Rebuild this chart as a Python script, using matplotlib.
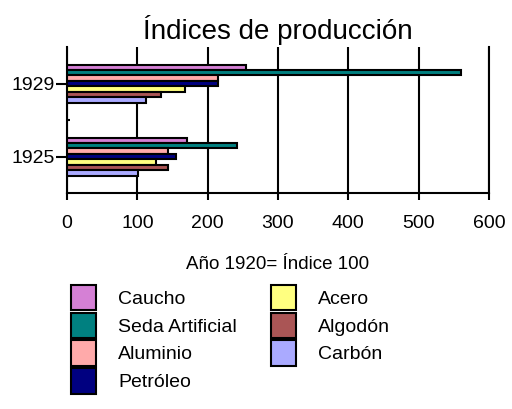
import numpy as np
import matplotlib
matplotlib.use("Agg")
import matplotlib.pyplot as plt

plt.rcParams['font.family'] = ['Liberation Sans', 'DejaVu Sans']

years = ["1925", "1929"]
series = ["Caucho", "Seda Artificial", "Aluminio", "Petróleo", "Acero", "Algodón", "Carbón"]
values = {
    "Caucho":          [171, 255],
    "Seda Artificial": [241, 560],
    "Aluminio":        [143, 214],
    "Petróleo":        [155, 214],
    "Acero":           [127, 168],
    "Algodón":         [144, 133],
    "Carbón":          [101, 112],
}
colors = ["#D580D5", "#008080", "#FFAAAA", "#000080", "#FFFF80", "#AA5555", "#AAAAFF"]

fig = plt.figure(figsize=(5.12, 4.09), dpi=100)
ax = fig.add_axes([0.131, 0.528, 0.824, 0.357])

y = np.arange(len(years))
n = len(series)
h = 0.52 / n
handles = []
for i, (name, c) in enumerate(zip(series, colors)):
    off = (n - 1) / 2 * h - i * h
    b = ax.barh(y + off, values[name], height=h, color=c, edgecolor="black", linewidth=1.5, label=name, zorder=3)
    handles.append(b)

ax.set_xlim(0, 600)
ax.set_ylim(-0.5, 1.5)
ax.set_xticks(range(0, 601, 100))
ax.set_yticks(y)
ax.set_yticklabels(years)
ax.set_yticks([0.5], minor=True)
ax.tick_params(axis='y', which='minor', direction='in', length=2, width=1.5)
ax.tick_params(axis='y', which='major', length=8, width=1.5, labelsize=14, pad=1)
ax.tick_params(axis='x', length=5, width=1.5, labelsize=14, pad=11)
ax.grid(axis='x', color='black', linewidth=1.5, zorder=0)
ax.spines['top'].set_visible(False)
for s in ['left', 'right', 'bottom']:
    ax.spines[s].set_linewidth(1.5)
ax.set_axisbelow(True)

ax.set_xlabel("Año 1920= Índice 100", fontsize=13.5, labelpad=17)
ax.set_title("Índices de producción", fontsize=20, pad=6)

fig.legend(handles=handles, labels=series, ncol=2, loc='upper left',
           bbox_to_anchor=(0.105, 0.347), frameon=False, fontsize=14,
           handlelength=1.29, handleheight=1.62, handletextpad=1.13,
           columnspacing=1.75, labelspacing=0.14, borderpad=0.4)

plt.savefig("out.png", dpi=100)
